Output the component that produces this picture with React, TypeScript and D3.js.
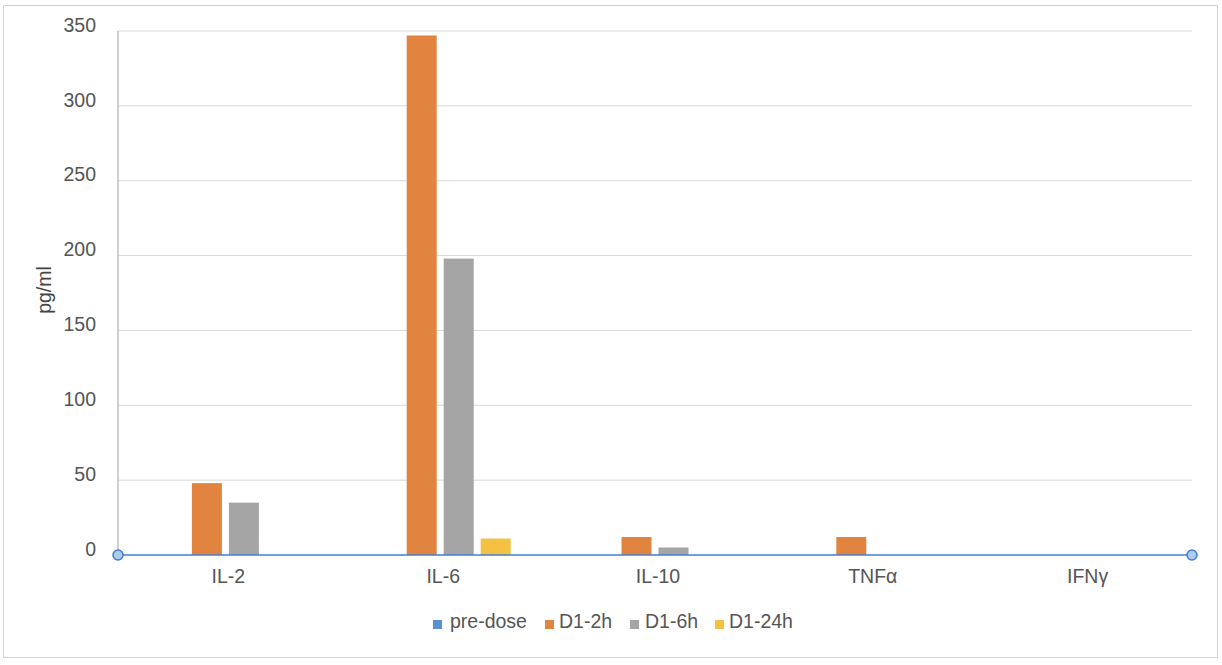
import React from "react";
import * as d3 from "d3";

const categories = ["IL-2", "IL-6", "IL-10", "TNFα", "IFNγ"];
const seriesNames = ["pre-dose", "D1-2h", "D1-6h", "D1-24h"];
const preDose = [0, 0, 0, 0, 0];
const d1_2h = [48, 347, 12, 12, 0];
const d1_6h = [35, 198, 5, 0, 0];
const d1_24h = [0, 11, 0, 0, 0];
const yTicks = [0, 50, 100, 150, 200, 250, 300, 350];
const colors = ["#5B8FD6", "#E1843F", "#A5A5A5", "#F4C142"];

const W = 1222;
const H = 665;
const left = 118;
const right = 1192;
const top = 31;
const bottom = 555;
const font = "'Liberation Sans', Arial, Helvetica, sans-serif";

export default function App() {
  const series = [preDose, d1_2h, d1_6h, d1_24h];
  const x = d3.scaleBand<string>().domain(categories).range([left, right]).paddingInner(0).paddingOuter(0);
  const y = d3.scaleLinear().domain([0, 350]).range([bottom, top]);
  const barW = 30;
  const step = 37;
  const groupW = step * 3 + barW;

  const legendItems = [
    { sx: 433, tx: 450 },
    { sx: 545, tx: 559 },
    { sx: 630, tx: 645 },
    { sx: 715, tx: 729 },
  ];

  return (
    <svg width={W} height={H} style={{ position: "absolute", left: 0, top: 0, background: "#fff" }} fontFamily={font}>
      <rect x={3.5} y={5.5} width={1214} height={652} fill="#fff" stroke="#d3d3d3" strokeWidth={1} />
      {yTicks.map((t) => (
        <g key={t}>
          {t > 0 && <line x1={left} x2={right} y1={y(t)} y2={y(t)} stroke="#d9d9d9" strokeWidth={1} />}
          <text x={96} y={y(t) - 4.5} textAnchor="end" fontSize={19.5} fill="#555" dominantBaseline="middle">
            {t}
          </text>
        </g>
      ))}
      <line x1={left} x2={left} y1={top} y2={bottom} stroke="#bfbfbf" strokeWidth={1.5} />
      <text transform={`translate(51,290) rotate(-90)`} textAnchor="middle" fontSize={19.5} fill="#444">
        pg/ml
      </text>
      {categories.map((c, ci) => {
        const cx = (x(c) as number) + x.bandwidth() / 2;
        const start = cx - groupW / 2;
        return (
          <g key={c}>
            {series.map((s, si) =>
              s[ci] > 0 ? (
                <rect
                  key={si}
                  x={start + si * step}
                  y={y(s[ci])}
                  width={barW}
                  height={y(0) - y(s[ci])}
                  fill={colors[si]}
                />
              ) : null
            )}
            <text x={cx + 3} y={578} textAnchor="middle" fontSize={19.5} fill="#555" dominantBaseline="middle">
              {c}
            </text>
          </g>
        );
      })}
      <line x1={left} x2={right} y1={y(0)} y2={y(0)} stroke="#3F7FD0" strokeWidth={1.5} />
      <circle cx={left} cy={y(0)} r={5} fill="#AFCBF0" stroke="#3F7FD0" strokeWidth={1.5} />
      <circle cx={right} cy={y(0)} r={5} fill="#AFCBF0" stroke="#3F7FD0" strokeWidth={1.5} />
      {seriesNames.map((n, i) => (
        <g key={n}>
          <rect x={legendItems[i].sx} y={620} width={9} height={9} fill={colors[i]} />
          <text x={legendItems[i].tx} y={623} fontSize={19.5} fill="#555" dominantBaseline="middle">
            {n}
          </text>
        </g>
      ))}
    </svg>
  );
}
